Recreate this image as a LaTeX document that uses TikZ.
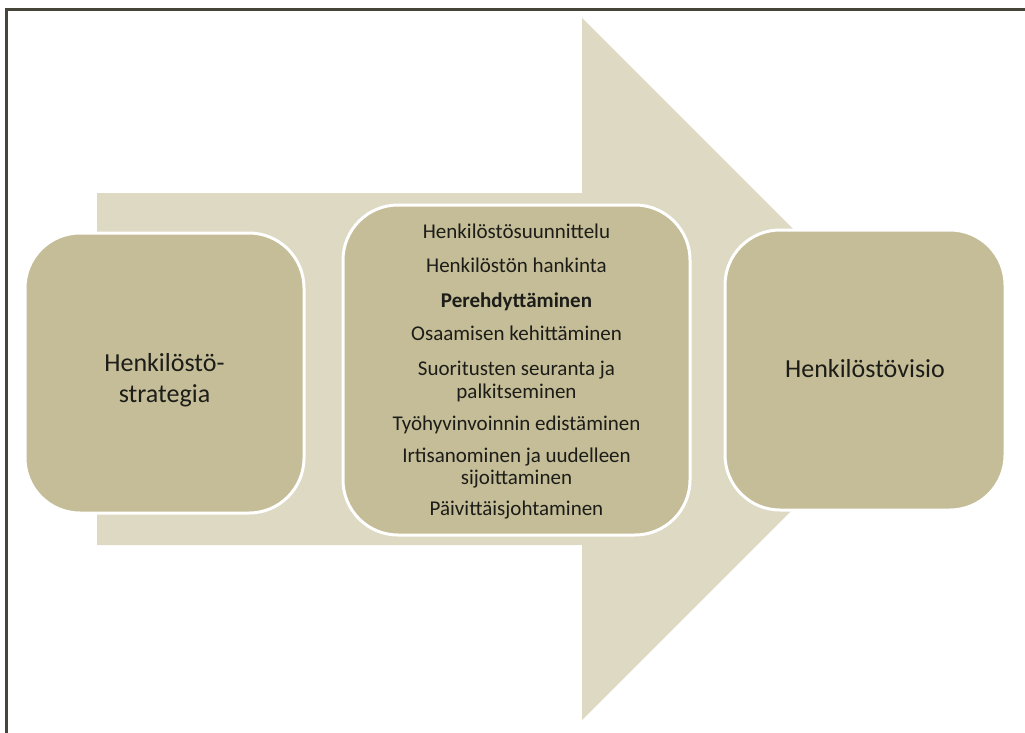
\documentclass[tikz,border=0pt]{standalone}
\usepackage{fontspec}
\setmainfont{Carlito}
\definecolor{framecol}{HTML}{45453A}
\definecolor{arrowfill}{HTML}{DDD9C3}
\definecolor{boxfill}{HTML}{C4BD97}
\definecolor{textcol}{HTML}{1C1C18}
\tikzset{
  stagebox/.style={draw=white, line width=3pt, fill=boxfill, rounded corners=55pt, inner sep=0pt},
  bigtext/.style={anchor=base, text=textcol, font=\fontsize{26}{30}\selectfont, inner sep=0pt},
  itemtext/.style={anchor=base, text=textcol, font=\fontsize{21}{24}\selectfont, inner sep=0pt},
}
\begin{document}
\begin{tikzpicture}[x=1pt, y=-1pt]
  \useasboundingbox (0,0) rectangle (1025,733);
  \fill[white] (0,0) rectangle (1025,733);

  % broad process arrow in the background
  \fill[arrowfill] (97,193) -- (582,193) -- (582,18) -- (933,369)
      -- (582,720) -- (582,545) -- (97,545) -- cycle;

  % slide frame (top and left edges)
  \draw[framecol, line width=3pt] (6,733) -- (6,10) -- (1025,10);

  % three stages
  \node[stagebox, minimum width=279pt, minimum height=280pt] (strat) at (164.5,373) {};
  \node[stagebox, minimum width=347pt, minimum height=330pt] (proc) at (516.5,370) {};
  \node[stagebox, minimum width=280pt, minimum height=280pt] (vision) at (865,370) {};

  % stage labels
  \node[bigtext] (stratA) at (164.5,371) {Henkilöstö-};
  \node[bigtext] (stratB) at (164.5,402) {strategia};
  \node[bigtext] (visionT) at (865,377) {Henkilöstövisio};

  % process steps
  \node[itemtext] (p1) at (516.5,238) {Henkilöstösuunnittelu};
  \node[itemtext] (p2) at (516.5,272) {Henkilöstön hankinta};
  \node[itemtext, font=\fontsize{21}{24}\selectfont\bfseries] (p3) at (516.5,307) {Perehdyttäminen};
  \node[itemtext] (p4) at (516.5,340) {Osaamisen kehittäminen};
  \node[itemtext] (p5a) at (516.5,375) {Suoritusten seuranta ja};
  \node[itemtext] (p5b) at (516.5,398) {palkitseminen};
  \node[itemtext] (p6) at (516.5,430) {Työhyvinvoinnin edistäminen};
  \node[itemtext] (p7a) at (516.5,462) {Irtisanominen ja uudelleen};
  \node[itemtext] (p7b) at (516.5,484) {sijoittaminen};
  \node[itemtext] (p8) at (516.5,515) {Päivittäisjohtaminen};
\end{tikzpicture}
\end{document}
